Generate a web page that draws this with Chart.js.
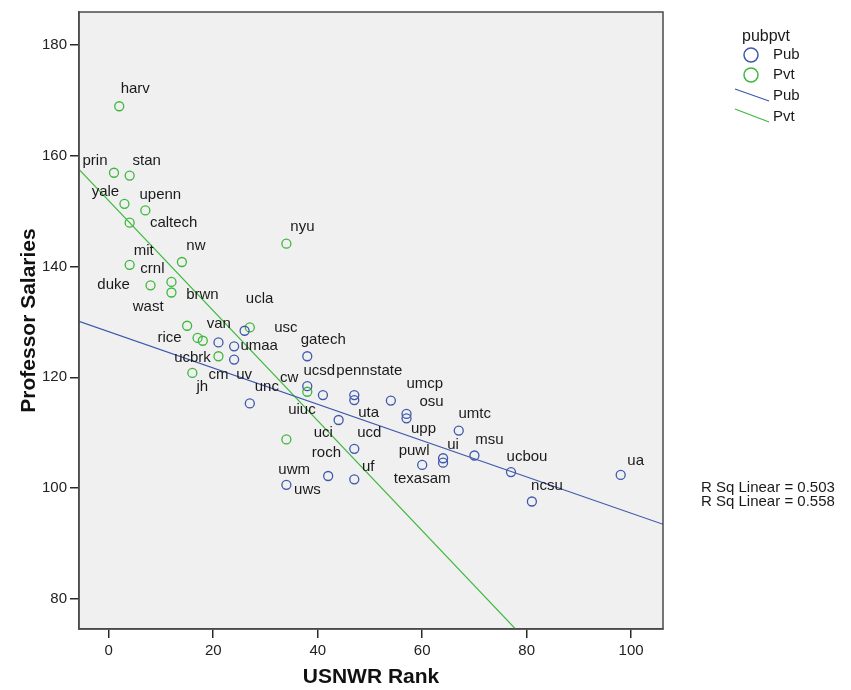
<!DOCTYPE html>
<html>
<head>
<meta charset="utf-8">
<script src="https://cdn.jsdelivr.net/npm/chart.js@4.4.1/dist/chart.umd.min.js"></script>
<style>
  html, body { margin: 0; padding: 0; background: #fff; }
</style>
</head>
<body>
<canvas id="chart" width="851" height="690"></canvas>
<script>
// Professor salaries vs USNWR rank, public / private schools
const pubNames = ["ucbrk", "umaa", "ucla", "uv", "unc", "gatech", "ucsd", "uiuc", "pennstate", "uci",
  "uta", "umcp", "osu", "upp", "umtc", "ucd", "texasam", "ui", "puwl", "msu",
  "uwm", "uf", "uws", "ucbou", "ncsu", "ua"];
const pubRank = [21, 24, 26, 24, 27, 38, 38, 41, 47, 47,
  44, 54, 57, 57, 67, 47, 60, 64, 64, 70,
  42, 47, 34, 77, 81, 98];
const pubSalary = [126.3, 125.6, 128.4, 123.2, 115.3, 123.8, 118.4, 116.8, 116.8, 115.9,
  112.3, 115.8, 113.4, 112.6, 110.4, 107.1, 104.2, 105.4, 104.6, 105.9,
  102.2, 101.6, 100.6, 102.9, 97.6, 102.4];

const pvtNames = ["harv", "prin", "stan", "yale", "upenn", "caltech", "mit", "nw", "duke", "crnl",
  "brwn", "wast", "rice", "van", "jh", "cm", "usc", "nyu", "cw", "roch"];
const pvtRank = [2, 1, 4, 3, 7, 4, 4, 14, 8, 12,
  12, 15, 17, 18, 16, 21, 27, 34, 38, 34];
const pvtSalary = [168.9, 156.9, 156.4, 151.3, 150.1, 147.9, 140.3, 140.8, 136.6, 137.2,
  135.3, 129.3, 127.1, 126.6, 120.8, 123.8, 129.0, 144.1, 117.4, 108.8];

const xTicks = [0, 20, 40, 60, 80, 100];
const yTicks = [80, 100, 120, 140, 160, 180];
const rSqLabels = ["R Sq Linear = 0.503", "R Sq Linear = 0.558"];

// axis range as shown in the plot frame
const xMin = -5.7, xMax = 106.1;
const yMin = 74.6, yMax = 185.9;

const PUB = "#3E58AC";
const PVT = "#3DB83D";
const FONT = "'Liberation Sans', Arial, sans-serif";

// where each point label sits, relative to its marker (px)
const labelOffsets = {
  harv: [16, -17], prin: [-19, -12], stan: [17, -15], yale: [-19, -12], upenn: [15, -16],
  caltech: [44, 0], mit: [14, -14], nw: [14, -16], duke: [-37, 0], crnl: [-19, -13],
  brwn: [31, 2], wast: [-39, -19], rice: [-28, 0], van: [16, -17], jh: [10, 14],
  cm: [0, 19], usc: [36, 0], nyu: [16, -17], cw: [-18, -14], roch: [40, 13],
  ucbrk: [-26, 15], umaa: [25, 0], ucla: [15, -32], uv: [10, 15], unc: [17, -17],
  gatech: [16, -16], ucsd: [12, -15], pennstate: [15, -24], uiuc: [-21, 15], uci: [-31, 33],
  uta: [30, -7], umcp: [34, -17], osu: [25, -12], upp: [17, 11], umtc: [16, -17],
  ucd: [15, -16], texasam: [0, 14], ui: [10, -13], puwl: [-29, -12], msu: [15, -16],
  uwm: [-34, -6], uf: [14, -12], uws: [21, 5], ucbou: [16, -15], ncsu: [15, -16], ua: [15, -14]
};

function toPoints(xs, ys) {
  return xs.map((x, i) => ({ x: x, y: ys[i] }));
}

// least squares fit, drawn across the whole x range
function fitLine(xs, ys) {
  const n = xs.length;
  const mx = xs.reduce((s, v) => s + v, 0) / n;
  const my = ys.reduce((s, v) => s + v, 0) / n;
  let sxy = 0, sxx = 0;
  for (let i = 0; i < n; i++) {
    sxy += (xs[i] - mx) * (ys[i] - my);
    sxx += (xs[i] - mx) * (xs[i] - mx);
  }
  const b = sxy / sxx;
  const a = my - b * mx;
  return [xMin, xMax].map(x => ({ x: x, y: a + b * x }));
}

const plotFrame = {
  id: "plotFrame",
  beforeDraw(chart) {
    const { ctx, chartArea: a } = chart;
    ctx.save();
    ctx.fillStyle = "#fff";
    ctx.fillRect(0, 0, chart.width, chart.height);
    ctx.fillStyle = "#f0f0f0";
    ctx.fillRect(a.left, a.top, a.right - a.left, a.bottom - a.top);
    ctx.restore();
  },
  afterDraw(chart) {
    const { ctx, chartArea: a } = chart;
    ctx.save();
    ctx.strokeStyle = "#4a4a4a";
    ctx.lineWidth = 1.5;
    ctx.strokeRect(a.left, a.top, a.right - a.left, a.bottom - a.top);

    // legend
    ctx.fillStyle = "#1a1a1a";
    ctx.textBaseline = "middle";
    ctx.textAlign = "center";
    ctx.font = "16px " + FONT;
    ctx.fillText("pubpvt", 766, 37);
    ctx.textAlign = "left";
    ctx.font = "15px " + FONT;
    ctx.lineWidth = 1.5;
    ctx.strokeStyle = PUB;
    ctx.beginPath(); ctx.arc(751, 55, 7, 0, Math.PI * 2); ctx.stroke();
    ctx.strokeStyle = PVT;
    ctx.beginPath(); ctx.arc(751, 75, 7, 0, Math.PI * 2); ctx.stroke();
    ctx.lineWidth = 1.2;
    ctx.strokeStyle = PUB;
    ctx.beginPath(); ctx.moveTo(735, 89); ctx.lineTo(769, 101); ctx.stroke();
    ctx.strokeStyle = PVT;
    ctx.beginPath(); ctx.moveTo(735, 109); ctx.lineTo(769, 122); ctx.stroke();
    ctx.fillText("Pub", 773, 55);
    ctx.fillText("Pvt", 773, 75);
    ctx.fillText("Pub", 773, 96);
    ctx.fillText("Pvt", 773, 117);

    // fit statistics
    ctx.fillText(rSqLabels[0], 701, 488);
    ctx.fillText(rSqLabels[1], 701, 502);
    ctx.restore();
  }
};

const pointLabels = {
  id: "pointLabels",
  afterDatasetsDraw(chart) {
    const ctx = chart.ctx;
    ctx.save();
    ctx.font = "15px " + FONT;
    ctx.fillStyle = "#1a1a1a";
    ctx.textAlign = "center";
    ctx.textBaseline = "middle";
    chart.data.datasets.forEach((ds, i) => {
      if (!ds.names) return;
      chart.getDatasetMeta(i).data.forEach((el, j) => {
        const name = ds.names[j];
        const off = labelOffsets[name] || [0, -14];
        ctx.fillText(name, el.x + off[0], el.y + off[1]);
      });
    });
    ctx.restore();
  }
};

function axis(min, max, ticks, title, isX) {
  return {
    type: "linear",
    min: min,
    max: max,
    afterBuildTicks: s => { s.ticks = ticks.map(v => ({ value: v })); },
    afterFit: s => { if (isX) s.height = 61; else s.width = 79; },
    grid: { drawOnChartArea: false, drawTicks: true, tickLength: 9, color: "#2a2a2a", lineWidth: 1.5 },
    border: { display: true, color: "#4a4a4a", width: 1.5 },
    ticks: { font: { size: 15, family: FONT }, color: "#222", padding: isX ? 4 : 3 },
    title: {
      display: true,
      text: title,
      color: "#111",
      font: { size: 21, weight: "bold", family: FONT },
      padding: isX ? { top: 0, bottom: 0 } : { top: 17, bottom: 0 }
    }
  };
}

new Chart(document.getElementById("chart"), {
  type: "scatter",
  data: {
    datasets: [
      {
        label: "Pub",
        names: pubNames,
        data: toPoints(pubRank, pubSalary),
        borderColor: PUB,
        backgroundColor: "transparent",
        pointRadius: 4.5,
        pointBorderWidth: 1.3
      },
      {
        label: "Pvt",
        names: pvtNames,
        data: toPoints(pvtRank, pvtSalary),
        borderColor: PVT,
        backgroundColor: "transparent",
        pointRadius: 4.5,
        pointBorderWidth: 1.3
      },
      {
        type: "line",
        label: "Pub fit",
        data: fitLine(pubRank, pubSalary),
        borderColor: PUB,
        borderWidth: 1.2,
        pointRadius: 0,
        clip: 0
      },
      {
        type: "line",
        label: "Pvt fit",
        data: fitLine(pvtRank, pvtSalary),
        borderColor: PVT,
        borderWidth: 1.2,
        pointRadius: 0,
        clip: 0
      }
    ]
  },
  options: {
    responsive: false,
    animation: false,
    devicePixelRatio: 1,
    layout: { padding: { top: 7, right: 188, left: 0, bottom: 0 } },
    plugins: { legend: { display: false }, tooltip: { enabled: false } },
    scales: {
      x: axis(xMin, xMax, xTicks, "USNWR Rank", true),
      y: axis(yMin, yMax, yTicks, "Professor Salaries", false)
    }
  },
  plugins: [plotFrame, pointLabels]
});
</script>
</body>
</html>
